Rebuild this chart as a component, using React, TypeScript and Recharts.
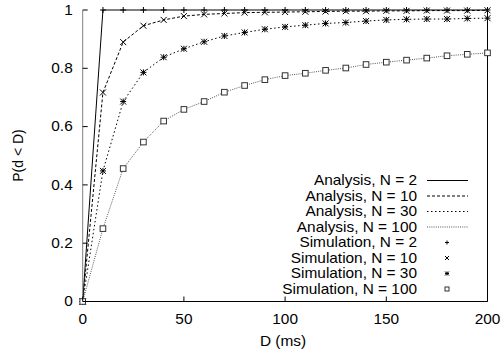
import { LineChart, Line, XAxis, YAxis } from "recharts";

// delay D in ms, one sample every 10 ms
const delays = [0, 10, 20, 30, 40, 50, 60, 70, 80, 90, 100, 110, 120, 130, 140, 150, 160, 170, 180, 190, 200];

// analysis curves, P(d < D)
const analysisN2 = [0, 1, 1, 1, 1, 1, 1, 1, 1, 1, 1, 1, 1, 1, 1, 1, 1, 1, 1, 1, 1];
const analysisN10 = [0, 0.717, 0.89, 0.946, 0.966, 0.979, 0.985, 0.988, 0.991, 0.992, 0.993, 0.994, 0.995, 0.996, 0.996, 0.997, 0.997, 0.998, 0.998, 0.998, 0.999];
const analysisN30 = [0, 0.448, 0.686, 0.786, 0.838, 0.867, 0.891, 0.911, 0.923, 0.934, 0.942, 0.948, 0.954, 0.957, 0.962, 0.966, 0.968, 0.969, 0.969, 0.971, 0.972];
const analysisN100 = [0, 0.25, 0.456, 0.547, 0.619, 0.659, 0.686, 0.718, 0.741, 0.761, 0.775, 0.783, 0.793, 0.801, 0.813, 0.821, 0.828, 0.835, 0.843, 0.848, 0.853];

// simulation points
const simulationN2 = [0, 1, 1, 1, 1, 1, 1, 1, 1, 1, 1, 1, 1, 1, 1, 1, 1, 1, 1, 1, 1];
const simulationN10 = [0, 0.717, 0.89, 0.946, 0.966, 0.979, 0.985, 0.988, 0.991, 0.992, 0.993, 0.994, 0.995, 0.996, 0.996, 0.997, 0.997, 0.998, 0.998, 0.998, 0.999];
const simulationN30 = [0, 0.448, 0.686, 0.786, 0.838, 0.867, 0.891, 0.911, 0.923, 0.934, 0.942, 0.948, 0.954, 0.957, 0.962, 0.966, 0.968, 0.969, 0.969, 0.971, 0.972];
const simulationN100 = [0, 0.25, 0.456, 0.547, 0.619, 0.659, 0.686, 0.718, 0.741, 0.761, 0.775, 0.783, 0.793, 0.801, 0.813, 0.821, 0.828, 0.835, 0.843, 0.848, 0.853];

const xTicks = [0, 50, 100, 150, 200];
const yTicks = [0, 0.2, 0.4, 0.6, 0.8, 1];

const data = delays.map((d, i) => ({
  d,
  a2: analysisN2[i],
  a10: analysisN10[i],
  a30: analysisN30[i],
  a100: analysisN100[i],
  s2: simulationN2[i],
  s10: simulationN10[i],
  s30: simulationN30[i],
  s100: simulationN100[i],
}));

const FONT = '"Liberation Sans", Arial, Helvetica, sans-serif';
const FS = 14;
const SX = 1.1;

type MarkerKind = "plus" | "cross" | "star" | "square";

const analysisSeries = [
  { key: "a2", name: "Analysis, N = 2", color: "#000", dash: undefined as string | undefined },
  { key: "a10", name: "Analysis, N = 10", color: "#000", dash: "3 2" },
  { key: "a30", name: "Analysis, N = 30", color: "#000", dash: "1.5 2.5" },
  { key: "a100", name: "Analysis, N = 100", color: "#555", dash: "1 1.2" },
];

const simulationSeries: { key: string; name: string; kind: MarkerKind; color: string }[] = [
  { key: "s2", name: "Simulation, N = 2", kind: "plus", color: "#000" },
  { key: "s10", name: "Simulation, N = 10", kind: "cross", color: "#000" },
  { key: "s30", name: "Simulation, N = 30", kind: "star", color: "#000" },
  { key: "s100", name: "Simulation, N = 100", kind: "square", color: "#333" },
];

function Marker({ kind, cx, cy, r, color }: { kind: MarkerKind; cx: number; cy: number; r: number; color: string }) {
  if (cx == null || cy == null) return null;
  const plus = `M${cx - r},${cy}H${cx + r}M${cx},${cy - r}V${cy + r}`;
  const cross = `M${cx - r},${cy - r}L${cx + r},${cy + r}M${cx - r},${cy + r}L${cx + r},${cy - r}`;
  if (kind === "square") {
    return <rect x={cx - r} y={cy - r} width={2 * r} height={2 * r} fill="#fff" stroke={color} strokeWidth={1} />;
  }
  const d = kind === "plus" ? plus : kind === "cross" ? cross : plus + cross;
  return <path d={d} stroke={color} strokeWidth={1} fill="none" />;
}

function txt(x: number, y: number, s: string, anchor: "start" | "middle" | "end") {
  return (
    <text
      x={0}
      y={0}
      transform={`translate(${x},${y}) scale(${SX},1)`}
      textAnchor={anchor}
      dominantBaseline="central"
      fontFamily={FONT}
      fontSize={FS}
      fill="#000"
    >
      {s}
    </text>
  );
}

function BottomTick(props: any) {
  const { x, y, payload } = props;
  return (
    <g>
      <line x1={x} y1={y} x2={x} y2={y - 5} stroke="#000" />
      {txt(x, y + 17.5, String(payload.value), "middle")}
    </g>
  );
}

function TopTick(props: any) {
  const { x, y } = props;
  return <line x1={x} y1={y} x2={x} y2={y + 5} stroke="#000" />;
}

function LeftTick(props: any) {
  const { x, y, payload } = props;
  return (
    <g>
      <line x1={x} y1={y} x2={x + 5} y2={y} stroke="#000" />
      {txt(x - 10, y, String(payload.value), "end")}
    </g>
  );
}

function RightTick(props: any) {
  const { x, y } = props;
  return <line x1={x} y1={y} x2={x - 5} y2={y} stroke="#000" />;
}

function LegendOverlay() {
  const rows = [
    ...analysisSeries.map((s) => ({ name: s.name, line: s })),
    ...simulationSeries.map((s) => ({ name: s.name, sim: s })),
  ];
  return (
    <svg width={504} height={356} style={{ position: "absolute", left: 0, top: 0, pointerEvents: "none" }}>
      {rows.map((r: any, i) => {
        const y = 180.5 + i * 15.5;
        return (
          <g key={r.name}>
            {txt(417, y, r.name, "end")}
            {r.line ? (
              <line x1={427} y1={y} x2={468} y2={y} stroke={r.line.color} strokeDasharray={r.line.dash} />
            ) : (
              <Marker kind={r.sim.kind} cx={447} cy={y} r={2} color={r.sim.color} />
            )}
          </g>
        );
      })}
      {txt(283, 341, "D (ms)", "middle")}
      <text
        x={0}
        y={0}
        transform="translate(17.5,155.5) rotate(-90)"
        textAnchor="middle"
        dominantBaseline="central"
        fontFamily={FONT}
        fontSize={FS}
        fill="#000"
      >
        P(d &lt; D)
      </text>
    </svg>
  );
}

export default function App() {
  return (
    <div style={{ position: "absolute", left: 0, top: 0, width: 504, height: 356, background: "#fff" }}>
      <LineChart width={504} height={356} data={data} margin={{ top: 10, right: 0, bottom: 0, left: 0 }}>
        <XAxis
          dataKey="d"
          type="number"
          domain={[0, 200]}
          ticks={xTicks}
          height={54.5}
          tickSize={0}
          tickMargin={0}
          tickLine={false}
          axisLine={{ stroke: "#000" }}
          tick={<BottomTick />}
          interval={0}
        />
        <XAxis
          xAxisId="top"
          orientation="top"
          dataKey="d"
          type="number"
          domain={[0, 200]}
          ticks={xTicks}
          height={0}
          tickSize={0}
          tickMargin={0}
          tickLine={false}
          axisLine={{ stroke: "#000" }}
          tick={<TopTick />}
          interval={0}
        />
        <YAxis
          type="number"
          domain={[0, 1]}
          ticks={yTicks}
          width={82.7}
          tickSize={0}
          tickMargin={0}
          tickLine={false}
          axisLine={{ stroke: "#808080" }}
          tick={<LeftTick />}
          interval={0}
        />
        <YAxis
          yAxisId="right"
          orientation="right"
          type="number"
          domain={[0, 1]}
          ticks={yTicks}
          width={16.5}
          tickSize={0}
          tickMargin={0}
          tickLine={false}
          axisLine={{ stroke: "#000" }}
          tick={<RightTick />}
          interval={0}
        />
        {analysisSeries.map((s) => (
          <Line
            key={s.key}
            dataKey={s.key}
            type="linear"
            stroke={s.color}
            strokeWidth={1}
            strokeDasharray={s.dash}
            dot={false}
            activeDot={false}
            isAnimationActive={false}
          />
        ))}
        {simulationSeries.map((s) => (
          <Line
            key={s.key}
            dataKey={s.key}
            type="linear"
            stroke="none"
            activeDot={false}
            isAnimationActive={false}
            dot={(p: any) => (
              <Marker key={`${s.key}-${p.index}`} kind={s.kind} cx={p.cx} cy={p.cy} r={s.kind === "square" ? 2.8 : 3} color={s.color} />
            )}
          />
        ))}
      </LineChart>
      <LegendOverlay />
    </div>
  );
}
